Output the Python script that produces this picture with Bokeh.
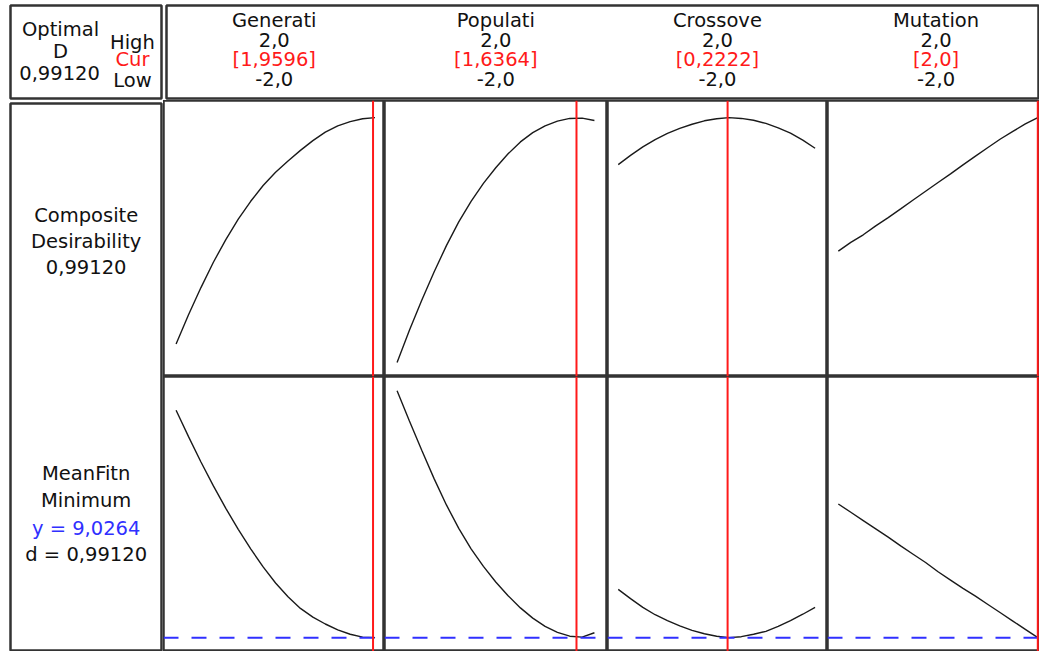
from bokeh.plotting import figure
from bokeh.models import Range1d, Span
from bokeh.layouts import row, column
from bokeh.core.properties import value
from bokeh.embed import file_html
from bokeh.resources import INLINE

# ---------------- data ----------------
factors = ["Generati", "Populati", "Crossove", "Mutation"]
high_labels = ["2,0", "2,0", "2,0", "2,0"]
low_labels = ["-2,0", "-2,0", "-2,0", "-2,0"]
current = [1.9596, 1.6364, 0.2222, 2.0]
current_labels = ["[1,9596]", "[1,6364]", "[0,2222]", "[2,0]"]

optimal_D = "0,99120"
target_y = 9.0264
y_label = "y = 9,0264"
d_label = "d = 0,99120"

levels = [-2.0, -1.75, -1.5, -1.25, -1.0, -0.75, -0.5, -0.25, 0.0,
          0.25, 0.5, 0.75, 1.0, 1.25, 1.5, 1.75, 2.0]

# composite desirability per factor
desir_generati = [0.133, 0.244, 0.347, 0.443, 0.529, 0.606, 0.674, 0.734, 0.784,
                  0.827, 0.867, 0.904, 0.936, 0.960, 0.976, 0.987, 0.991]
desir_populati = [0.063, 0.185, 0.299, 0.406, 0.506, 0.596, 0.674, 0.742, 0.801,
                  0.854, 0.899, 0.934, 0.960, 0.978, 0.988, 0.989, 0.980]
desir_crossove = [0.813, 0.848, 0.880, 0.908, 0.931, 0.950, 0.966, 0.979, 0.987,
                  0.991, 0.988, 0.981, 0.969, 0.952, 0.932, 0.906, 0.875]
desir_mutation = [0.485, 0.518, 0.547, 0.581, 0.612, 0.645, 0.679, 0.712, 0.745,
                  0.778, 0.812, 0.845, 0.878, 0.910, 0.939, 0.967, 0.991]

# MeanFitn per factor
fit_generati = [13.69, 13.15, 12.63, 12.14, 11.68, 11.25, 10.85, 10.48, 10.15,
                9.87, 9.63, 9.45, 9.31, 9.19, 9.10, 9.04, 9.03]
fit_populati = [14.09, 13.47, 12.87, 12.29, 11.75, 11.27, 10.85, 10.49, 10.17,
                9.89, 9.64, 9.43, 9.26, 9.14, 9.06, 9.04, 9.13]
fit_crossove = [10.02, 9.83, 9.65, 9.50, 9.38, 9.27, 9.18, 9.11, 9.06,
                9.03, 9.05, 9.10, 9.16, 9.26, 9.38, 9.51, 9.65]
fit_mutation = [11.77, 11.60, 11.43, 11.26, 11.09, 10.91, 10.74, 10.57, 10.38,
                10.21, 10.04, 9.88, 9.71, 9.54, 9.37, 9.20, 9.03]

desir_rows = [desir_generati, desir_populati, desir_crossove, desir_mutation]
fit_rows = [fit_generati, fit_populati, fit_crossove, fit_mutation]

# ---------------- layout / style ----------------
FONT = value("DejaVu Sans")
FS = "19.5px"
BORDER = "#333333"
RED = "#ff1a1a"
BLUE = "#3030ff"
INK = "#111111"

left_w = 163
col_widths = [221, 223, 220, 212]
col_xranges = [(-2.253, 2.190), (-2.255, 2.265), (-2.218, 2.252), (-2.217, 2.034)]
head_h, top_h, bot_h = 100, 276, 275
top_yrange = (0.00996, 1.05595)
bot_yrange = (8.7464, 14.3824)


def mkfig(w, h, xr, yr, mb=(0, 0, 0, 0)):
    p = figure(width=w, height=h, x_range=Range1d(*xr), y_range=Range1d(*yr),
               output_backend="svg", toolbar_location=None,
               x_axis_location=None, y_axis_location=None,
               min_border_left=mb[0], min_border_right=mb[1],
               min_border_top=mb[2], min_border_bottom=mb[3])
    p.grid.visible = False
    p.background_fill_color = "white"
    p.border_fill_color = "white"
    p.outline_line_color = BORDER
    p.outline_line_width = 2.5
    return p


def txt(p, x, y, s, color=INK):
    p.text(x=[x], y=[y], text=[s], text_font=FONT, text_font_size=FS,
           text_align="center", text_baseline="middle", text_color=color)


# top-left box
tl = mkfig(left_w, head_h, (10.15, 163.5), (100.5, 5.1), mb=(10, 2, 5, 2))
txt(tl, 61, 30, "Optimal")
txt(tl, 61, 52, "D")
txt(tl, 60, 74, optimal_D)
txt(tl, 134, 43, "High")
txt(tl, 134, 61, "Cur", RED)
txt(tl, 134, 82, "Low")

# header box
hdr = mkfig(sum(col_widths), head_h, (168.6, 1055), (100.5, 5.1), mb=(3, 0, 5, 2))
head_centers = [278, 503, 728, 950]
for i, cx in enumerate(head_centers):
    txt(hdr, cx, 20, factors[i])
    txt(hdr, cx, 41, high_labels[i])
    txt(hdr, cx, 61, current_labels[i], RED)
    txt(hdr, cx, 81, low_labels[i])

# left label box
lbl = mkfig(left_w, top_h + bot_h, (10.15, 163.5), (667, 105.5), mb=(10, 2, 3, 0))
txt(lbl, 87, 220, "Composite")
txt(lbl, 87, 247, "Desirability")
txt(lbl, 87, 273, optimal_D)
txt(lbl, 87, 485, "MeanFitn")
txt(lbl, 87, 512, "Minimum")
txt(lbl, 87, 541, y_label, BLUE)
txt(lbl, 87, 568, d_label)

top_panels, bot_panels = [], []
for i in range(4):
    pt = mkfig(col_widths[i], top_h, col_xranges[i], top_yrange)
    pt.line(levels, desir_rows[i], line_color="#1a1a1a", line_width=1.4)
    pt.add_layout(Span(location=current[i], dimension="height",
                       line_color=RED, line_width=2))
    top_panels.append(pt)

    pb = mkfig(col_widths[i], bot_h, col_xranges[i], bot_yrange)
    pb.add_layout(Span(location=target_y, dimension="width",
                       line_color=BLUE, line_width=2, line_dash="15 13"))
    pb.line(levels, fit_rows[i], line_color="#1a1a1a", line_width=1.4)
    pb.add_layout(Span(location=current[i], dimension="height",
                       line_color=RED, line_width=2))
    bot_panels.append(pb)

layout = column(
    row(tl, hdr),
    row(lbl, column(row(*top_panels), row(*bot_panels))),
)

open("out.html", "w").write(file_html(layout, INLINE))
